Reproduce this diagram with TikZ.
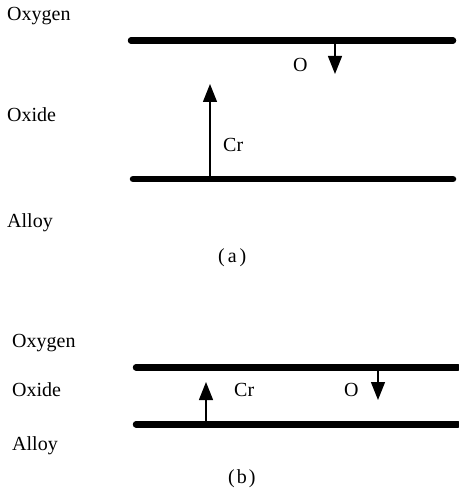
\documentclass[tikz,border=0pt]{standalone}
\usepackage{fontspec}
\setmainfont{Liberation Serif}
\usetikzlibrary{arrows.meta}
\begin{document}
\begin{tikzpicture}[x=1pt,y=-1pt,
  lbl/.style={anchor=base west, inner sep=0pt, font=\fontsize{20}{23}\selectfont},
  layer/.style={line width=6.5pt, line cap=round},
  flux/.style={line width=1.4pt, -{Triangle[width=14pt,length=18pt]}}]
\useasboundingbox (0,0) rectangle (458,489);
% ---------- (a)
\node[lbl] (oxyA) at (7,21) {Oxygen};
\node[lbl] (oxdA) at (7,122) {Oxide};
\node[lbl] (alyA) at (7,227) {Alloy};
\coordinate (a1l) at (131,40.5);
\coordinate (a1r) at (453,40.5);
\coordinate (a2l) at (133,179);
\coordinate (a2r) at (453,179);
\draw[layer] (a1l) -- (a1r);
\draw[layer] (a2l) -- (a2r);
\coordinate (aOs) at (335,40.5);
\coordinate (aOt) at (335,74);
\coordinate (aCs) at (210,179);
\coordinate (aCt) at (210,84);
\draw[flux] (aOs) -- (aOt);
\draw[flux] (aCs) -- (aCt);
\node[lbl] (aO) at (293,72) {O};
\node[lbl] (aCr) at (223,152) {Cr};
\node[lbl] (capA) at (218,262) {(\hspace{3pt}a\hspace{3pt})};
% ---------- (b)
\node[lbl] (oxyB) at (12,347) {Oxygen};
\node[lbl] (oxdB) at (12,396) {Oxide};
\node[lbl] (alyB) at (12,450) {Alloy};
\coordinate (b1l) at (136,367.3);
\coordinate (b1r) at (458,367.3);
\coordinate (b2l) at (136,424.3);
\coordinate (b2r) at (458,424.3);
\draw[layer] (b1l) -- (b1r);
\draw[layer] (b2l) -- (b2r);
\coordinate (bCs) at (206,424.3);
\coordinate (bCt) at (206,382);
\coordinate (bOs) at (378,367.3);
\coordinate (bOt) at (378,400);
\draw[flux] (bCs) -- (bCt);
\draw[flux] (bOs) -- (bOt);
\node[lbl] (bCr) at (234,396) {Cr};
\node[lbl] (bO) at (344,396) {O};
\node[lbl] (capB) at (228,483) {(\hspace{2pt}b\hspace{2pt})};
\end{tikzpicture}
\end{document}
